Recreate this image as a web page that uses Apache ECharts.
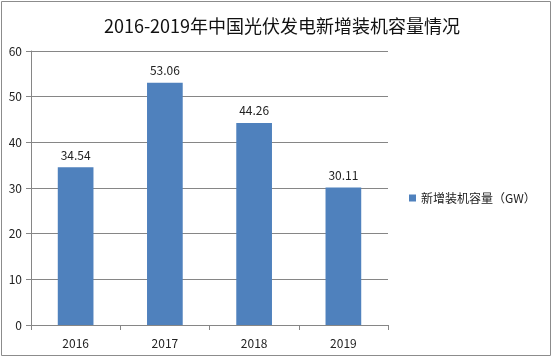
<!DOCTYPE html>
<html><head><meta charset="utf-8">
<script src="https://cdn.jsdelivr.net/npm/echarts@6/dist/echarts.min.js"></script>
<style>html,body{margin:0;padding:0;background:#fff}#c{width:555px;height:359px}</style>
</head><body><div id="c"></div>
<script>
const categories = ['2016', '2017', '2018', '2019'];
const values = [34.54, 53.06, 44.26, 30.11];
const seriesName = '新增装机容量（GW）';
const titleText = '2016-2019年中国光伏发电新增装机容量情况';
const yTicks = [0, 10, 20, 30, 40, 50, 60];

const chart = echarts.init(document.getElementById('c'));
const font = '"Noto Sans CJK SC", "Liberation Sans", sans-serif';
chart.setOption({
  animation: false,
  textStyle: { fontFamily: font },
  graphic: [{ type: 'rect', shape: { x: 1.5, y: 1.5, width: 549, height: 354 }, style: { fill: 'none', stroke: '#8c8c8c', lineWidth: 1 } }],
  title: { text: titleText, left: 277, top: 12, textAlign: 'center',
    textStyle: { fontSize: 18, fontWeight: 'normal', color: '#111', fontFamily: font } },
  legend: { orient: 'vertical', left: 404, top: 187, itemWidth: 7, itemHeight: 7, itemGap: 4,
    icon: 'rect', textStyle: { fontSize: 12, color: '#222', fontFamily: font }, data: [seriesName] },
  grid: { left: 31, right: 167, top: 51, bottom: 34 },
  xAxis: { type: 'category', data: categories,
    axisLine: { lineStyle: { color: '#868686' } },
    axisTick: { show: true, length: 5, lineStyle: { color: '#868686' } },
    axisLabel: { fontSize: 12, color: '#222', margin: 12 } },
  yAxis: { type: 'value', min: yTicks[0], max: yTicks[yTicks.length - 1], interval: 10,
    axisLine: { show: true, lineStyle: { color: '#868686' } },
    axisTick: { show: true, length: 5, lineStyle: { color: '#868686' } },
    splitLine: { lineStyle: { color: '#868686' } },
    axisLabel: { fontSize: 12, color: '#222', margin: 9 } },
  series: [{ name: seriesName, type: 'bar', data: values, barWidth: '40%',
    itemStyle: { color: '#4F81BD' },
    label: { show: true, position: 'top', fontSize: 12, color: '#222', distance: 6,
      formatter: p => p.value.toFixed(2) } }]
});
</script></body></html>
